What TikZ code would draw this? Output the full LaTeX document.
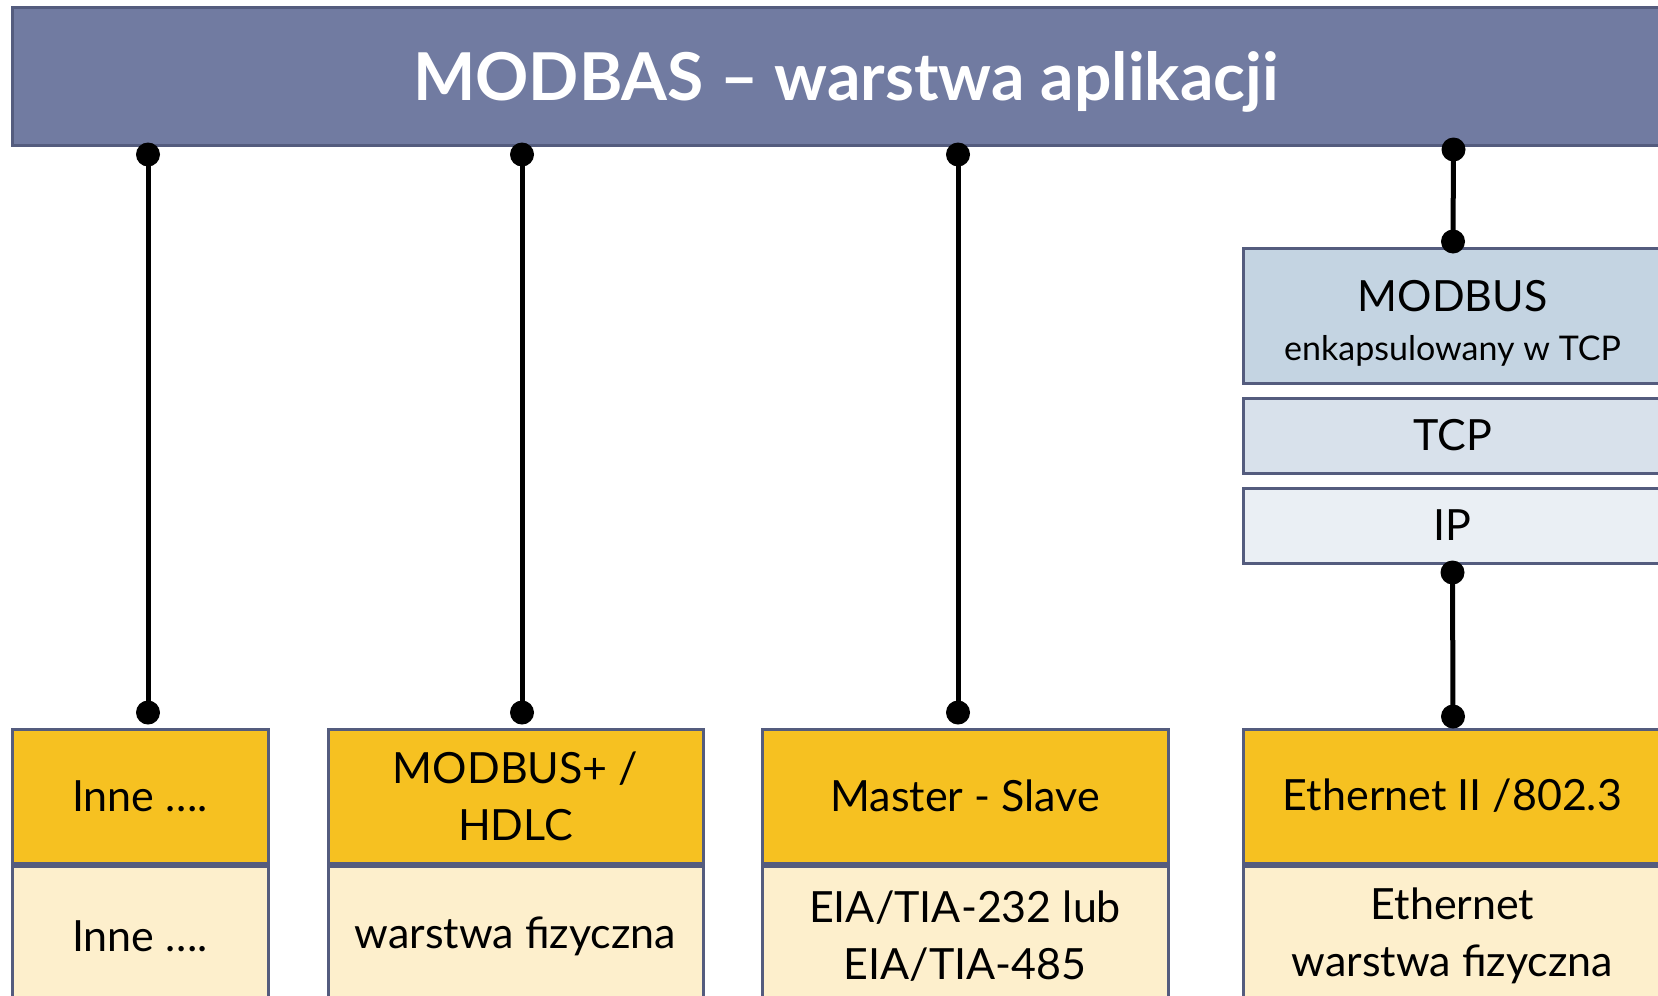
\documentclass[tikz,border=0pt]{standalone}
\usepackage{fontspec}
\setmainfont{Lato}
\usetikzlibrary{calc}
\definecolor{barfill}{RGB}{113,123,161}
\definecolor{edge}{RGB}{84,92,126}
\definecolor{gold}{RGB}{246,193,33}
\definecolor{cream}{RGB}{253,239,204}
\definecolor{blueA}{RGB}{196,212,226}
\definecolor{blueB}{RGB}{216,225,235}
\definecolor{blueC}{RGB}{234,239,244}
\tikzset{
  box/.style={draw=edge, line width=3pt, inner sep=0pt, align=center, font=\fontsize{43}{57}\selectfont, text=black},
  upper/.style={box, fill=gold},
  lower/.style={box, fill=cream},
  conn/.style={line width=5pt, black},
  dot/.style={fill=black}
}
\begin{document}
\begin{tikzpicture}[x=1pt,y=-1pt]
\useasboundingbox (0,0) rectangle (1658,996);
\clip (0,0) rectangle (1658,996);

% application layer bar
\node[draw=edge, line width=3pt, fill=barfill, minimum width=1668pt, minimum height=138pt, inner sep=0pt,
      text depth=0pt, text=white, font=\fontsize{66}{74}\selectfont\bfseries] (title) at (846,76) {MODBAS – warstwa aplikacji};

% column 1
\node[upper, minimum width=256pt, minimum height=134pt] (top1) at (140,796) {Inne ….};
\node[lower, minimum width=256pt, minimum height=140pt, anchor=north] (bot1) at (top1.south) {Inne ….};

% column 2
\node[upper, minimum width=375pt, minimum height=134pt] (top2) at (515.5,796) {MODBUS+ /\\HDLC};
\node[lower, minimum width=375pt, minimum height=140pt, anchor=north] (bot2) at (top2.south) {warstwa fizyczna};

% column 3
\node[upper, minimum width=406pt, minimum height=134pt] (top3) at (965,796) {Master - Slave};
\node[lower, minimum width=406pt, minimum height=140pt, anchor=north] (bot3) at (top3.south) {EIA/TIA-232 lub\\EIA/TIA-485};

% column 4
\node[upper, minimum width=419pt, minimum height=134pt] (top4) at (1452.5,796) {Ethernet II /802.3};
\node[lower, minimum width=419pt, minimum height=140pt, anchor=north] (bot4) at (top4.south) {Ethernet\\ warstwa fizyczna};

% TCP/IP stack
\node[box, fill=blueA, minimum width=419pt, minimum height=135pt] (mtcp) at (1452.5,315.5)
  {\rule{0pt}{46pt}MODBUS\\[-8pt]{\fontsize{34}{42}\selectfont enkapsulowany w TCP}};
\node[box, fill=blueB, minimum width=419pt, minimum height=75pt] (tcp) at (1452.5,435.5) {TCP};
\node[box, fill=blueC, minimum width=419pt, minimum height=75pt] (ip) at (1452.5,525.5) {IP};

% connector end points
\coordinate (a1) at ($(title.south -| top1.north)+(8,8)$);
\coordinate (b1) at ($(top1.north)+(8,-15)$);
\coordinate (a2) at ($(title.south -| top2.north)+(6.5,8)$);
\coordinate (b2) at ($(top2.north)+(6.5,-15)$);
\coordinate (a3) at ($(title.south -| top3.north)+(-7,8)$);
\coordinate (b3) at ($(top3.north)+(-7,-15)$);
\coordinate (a4) at ($(title.south -| mtcp.north)+(1,3)$);
\coordinate (b4) at ($(mtcp.north)+(0.5,-5)$);
\coordinate (a5) at ($(ip.south)+(0,8)$);
\coordinate (b5) at ($(top4.north)+(0.5,-11)$);

\foreach \p/\q in {a1/b1, a2/b2, a3/b3, a4/b4, a5/b5}{
  \draw[conn] (\p) -- (\q);
  \fill[dot] (\p) circle (12pt);
  \fill[dot] (\q) circle (12pt);
}
\end{tikzpicture}
\end{document}
